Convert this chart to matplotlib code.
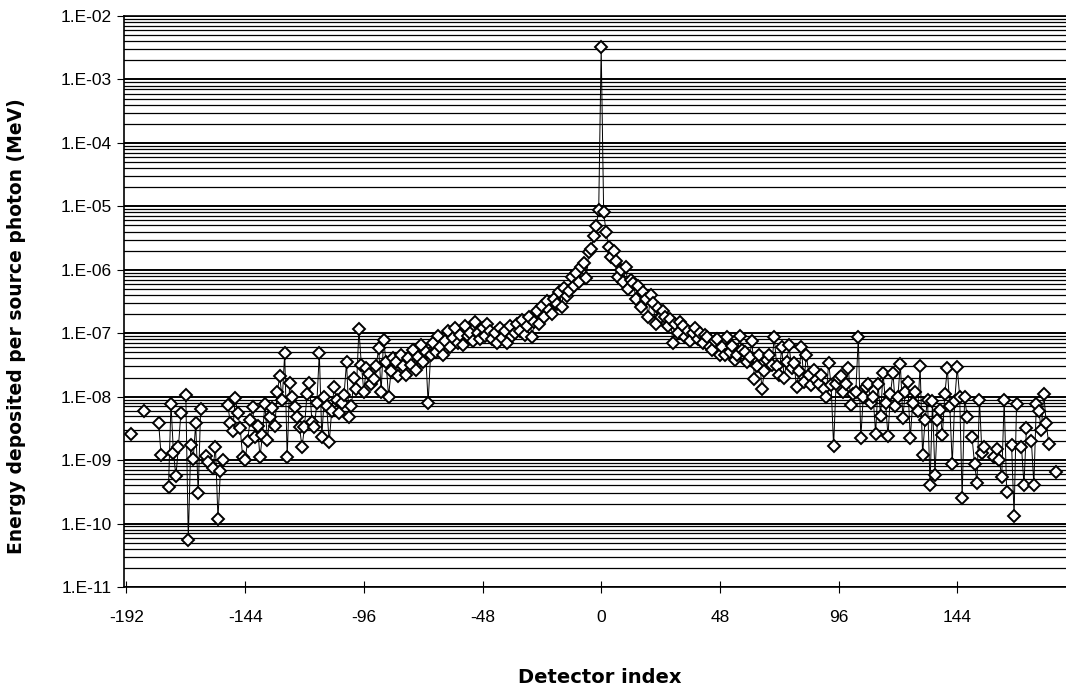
import numpy as np
import matplotlib
matplotlib.use("Agg")
import matplotlib.pyplot as plt
from matplotlib.ticker import LogLocator, FixedLocator, FuncFormatter, NullFormatter

nan = np.nan

# Energy deposited per source photon (MeV) for each detector, -190 .. 188.
# Blank entries are detectors with no recorded deposit.
left_tail = [  # -190 .. -141
    2.6e-9, nan, nan, nan, nan, 6.0e-9, nan, nan, nan, nan,
    nan, 3.9e-9, 1.2e-9, nan, nan, 3.8e-10, 7.8e-9, 1.3e-9, 5.6e-10, 1.6e-9,
    5.5e-9, nan, 1.07e-8, 5.6e-11, 1.7e-9, 1.05e-9, 3.8e-9, 3.0e-10, 6.4e-9, nan,
    1.15e-9, 9.3e-10, nan, 7.6e-10, 1.6e-9, 1.2e-10, 6.7e-10, 1.0e-9, nan, 7.4e-9,
    3.8e-9, 2.9e-9, 9.6e-9, 5.5e-9, 3.2e-9, 1.1e-9, 1.0e-9, 2.0e-9, 4.3e-9, 6.9e-9,
]
left_flank = [  # -140 .. -91
    2.3e-9, 3.5e-9, 1.1e-9, 2.5e-9, 7.8e-9, 2.1e-9, 4.8e-9, 6.6e-9, 3.5e-9, 1.2e-8,
    2.1e-8, 8.9e-9, 4.9e-8, 1.1e-9, 1.66e-8, 1.0e-8, 6.9e-9, 4.8e-9, 3.3e-9, 1.6e-9,
    3.3e-9, 1.1e-8, 1.66e-8, 4.0e-9, 3.3e-9, 8.0e-9, 4.9e-8, 2.3e-9, 1.0e-8, 7.0e-9,
    1.9e-9, 6.0e-9, 1.4e-8, 9.0e-9, 5.5e-9, 8.0e-9, 1.07e-8, 3.5e-8, 4.8e-9, 7.0e-9,
    2.0e-8, 1.3e-8, 1.15e-7, 3.2e-8, 1.2e-8, 2.8e-8, 2.3e-8, 1.6e-8, 1.9e-8, 3.0e-8,
]
left_slope = [  # -90 .. -41
    5.9e-8, 1.2e-8, 7.9e-8, 3.5e-8, 1.0e-8, 2.5e-8, 4.0e-8, 3.5e-8, 2.1e-8, 4.5e-8,
    3.0e-8, 2.2e-8, 4.0e-8, 3.2e-8, 5.5e-8, 2.6e-8, 4.2e-8, 6.5e-8, 3.5e-8, 5.0e-8,
    8.0e-9, 4.5e-8, 7.0e-8, 5.0e-8, 9.0e-8, 6.0e-8, 4.5e-8, 7.5e-8, 1.1e-7, 6.0e-8,
    8.5e-8, 1.2e-7, 7.0e-8, 9.5e-8, 6.5e-8, 1.3e-7, 9.0e-8, 1.0e-7, 7.5e-8, 1.5e-7,
    1.0e-7, 8.0e-8, 1.2e-7, 9.0e-8, 1.4e-7, 1.1e-7, 8.0e-8, 1.0e-7, 7.0e-8, 1.2e-7,
]
left_core = [  # -40 .. -1
    8.5e-8, 1.1e-7, 7.0e-8, 1.3e-7, 9.0e-8, 1.0e-7, 1.4e-7, 1.1e-7, 1.6e-7, 9.5e-8,
    1.3e-7, 1.8e-7, 8.7e-8, 1.5e-7, 2.2e-7, 1.4e-7, 2.7e-7, 1.8e-7, 3.2e-7, 2.3e-7,
    2.0e-7, 3.5e-7, 2.9e-7, 4.5e-7, 2.6e-7, 5.2e-7, 3.8e-7, 4.6e-7, 7.7e-7, 5.5e-7,
    9.0e-7, 6.5e-7, 1.1e-6, 1.3e-6, 7.5e-7, 1.9e-6, 2.1e-6, 3.4e-6, 4.9e-6, 8.8e-6,
]
central = [3.2e-3]  # detector 0
right_core = [  # 1 .. 40
    8.0e-6, 3.9e-6, 2.3e-6, 1.6e-6, 2.0e-6, 1.4e-6, 7.7e-7, 1.0e-6, 6.5e-7, 1.1e-6,
    4.9e-7, 7.0e-7, 6.3e-7, 3.5e-7, 5.5e-7, 2.6e-7, 4.5e-7, 3.5e-7, 1.8e-7, 4.0e-7,
    3.0e-7, 1.4e-7, 2.5e-7, 1.8e-7, 2.2e-7, 1.8e-7, 1.3e-7, 1.7e-7, 7.0e-8, 1.4e-7,
    1.0e-7, 1.5e-7, 1.3e-7, 8.7e-8, 1.1e-7, 7.5e-8, 1.0e-7, 1.2e-7, 8.0e-8, 1.0e-7,
]
right_slope = [  # 41 .. 90
    7.0e-8, 9.5e-8, 8.7e-8, 6.0e-8, 5.5e-8, 7.5e-8, 8.0e-8, 4.5e-8, 6.0e-8, 4.6e-8,
    8.7e-8, 5.0e-8, 6.2e-8, 3.8e-8, 4.5e-8, 9.0e-8, 5.5e-8, 5.0e-8, 3.5e-8, 4.2e-8,
    7.5e-8, 1.9e-8, 3.0e-8, 4.5e-8, 1.3e-8, 2.5e-8, 3.8e-8, 4.6e-8, 3.2e-8, 8.7e-8,
    3.0e-8, 2.2e-8, 6.0e-8, 2.0e-8, 3.5e-8, 6.5e-8, 2.8e-8, 3.4e-8, 1.4e-8, 2.5e-8,
    6.0e-8, 1.7e-8, 4.6e-8, 2.2e-8, 1.5e-8, 2.6e-8, 1.8e-8, 1.6e-8, 2.2e-8, 1.3e-8,
]
right_flank = [  # 91 .. 140
    1.0e-8, 3.4e-8, 1.5e-8, 1.65e-9, 1.6e-8, 2.0e-8, 2.1e-8, 1.2e-8, 1.6e-8, 2.8e-8,
    7.5e-9, 1.1e-8, 1.2e-8, 8.7e-8, 2.2e-9, 1.0e-8, 1.4e-8, 1.6e-8, 8.0e-9, 1.0e-8,
    2.6e-9, 1.6e-8, 5.0e-9, 2.4e-8, 8.0e-9, 2.4e-9, 1.1e-8, 2.4e-8, 7.0e-9, 1.0e-8,
    3.3e-8, 4.6e-9, 1.2e-8, 1.7e-8, 2.2e-9, 8.0e-9, 1.2e-8, 6.0e-9, 3.0e-8, 1.2e-9,
    4.3e-9, 9.0e-9, 4.1e-10, 8.5e-9, 5.8e-10, 4.3e-9, 6.2e-9, 2.5e-9, 1.1e-8, 2.8e-8,
]
right_tail = [  # 141 .. 188
    7.0e-9, 8.7e-10, 8.6e-9, 2.9e-8, 1.0e-8, 2.5e-10, 1.0e-8, 4.8e-9, nan, 2.3e-9,
    8.7e-10, 4.4e-10, 8.8e-9, 1.3e-9, 1.6e-9, nan, nan, nan, 1.1e-9, 1.5e-9,
    1.0e-9, 5.5e-10, 8.8e-9, 3.2e-10, nan, 1.7e-9, 1.3e-10, 7.8e-9, nan, 1.6e-9,
    4.1e-10, 3.2e-9, nan, 2.0e-9, 4.1e-10, 7.8e-9, 6.0e-9, 3.0e-9, 1.1e-8, 3.9e-9,
    1.8e-9, nan, nan, 6.6e-10, nan, nan, nan, nan,
]

first_detector = -190
x_ticks = [-192, -144, -96, -48, 0, 48, 96, 144]

energy = np.array(left_tail + left_flank + left_slope + left_core + central
                  + right_core + right_slope + right_flank + right_tail)
detector = np.arange(first_detector, first_detector + len(energy))

plt.rcParams['font.family'] = ['Liberation Sans', 'DejaVu Sans']

W, H = 1066, 689
fig = plt.figure(figsize=(W / 100, H / 100), dpi=100)
left, right, top, bottom = 124, 1066, 16, 587
ax = fig.add_axes([left / W, 1 - bottom / H, (right - left) / W, (bottom - top) / H])

ax.set_yscale('log')
ax.set_ylim(1e-11, 1e-2)
ax.set_xlim(-193, 188)

ax.yaxis.set_major_locator(LogLocator(base=10, numticks=20))
ax.yaxis.set_minor_locator(LogLocator(base=10, subs=np.arange(2, 10), numticks=20))
ax.yaxis.set_minor_formatter(NullFormatter())
ax.yaxis.set_major_formatter(
    FuncFormatter(lambda v, p: "1.E-%02d" % int(round(-np.log10(v)))))

ax.xaxis.set_major_locator(FixedLocator(x_ticks))
ax.set_xticklabels([str(t) for t in x_ticks])

ax.set_axisbelow(True)
ax.grid(which='major', axis='y', color='black', linewidth=1.4)
ax.grid(which='minor', axis='y', color='black', linewidth=0.9)
ax.grid(which='both', axis='x', visible=False)

ax.spines['right'].set_visible(False)
for side in ('left', 'bottom', 'top'):
    ax.spines[side].set_linewidth(1.2)
    ax.spines[side].set_color('black')

ax.tick_params(axis='x', which='major', direction='inout', length=9, width=0.8,
               labelsize=12.5, pad=12)
ax.tick_params(axis='y', which='major', direction='out', length=5, width=0.8,
               labelsize=12.5, pad=4)
ax.tick_params(axis='y', which='minor', length=0)

ax.plot(detector, energy, color='black', linewidth=0.7,
        marker='D', markersize=6.2, markerfacecolor='white',
        markeredgecolor='black', markeredgewidth=1.4, zorder=3)

ax.set_ylabel('Energy deposited per source photon (MeV)', fontsize=13.5,
              fontweight='bold', family=['DejaVu Sans'])
ax.yaxis.set_label_coords((26 - left) / (right - left), (bottom - 326) / (bottom - top))
ax.set_xlabel('Detector index', fontsize=14, fontweight='bold',
              family=['DejaVu Sans'])
ax.xaxis.set_label_coords((600 - left) / (right - left), (bottom - 668) / (bottom - top))

fig.savefig('out.png', dpi=100, facecolor='white')
